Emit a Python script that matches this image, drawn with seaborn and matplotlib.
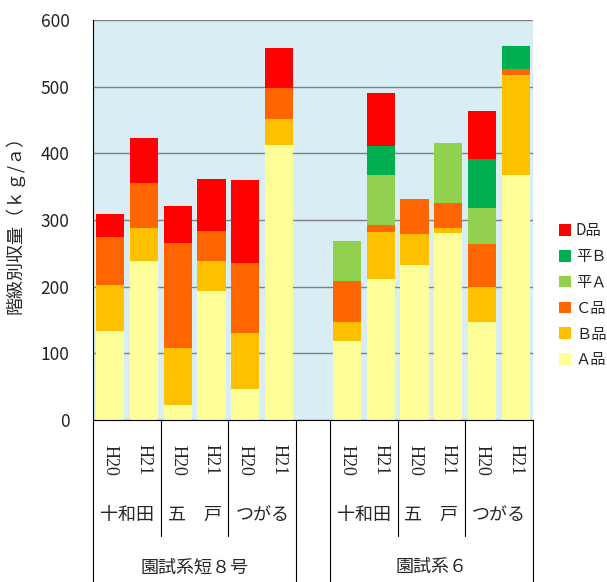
import numpy as np
import pandas as pd
import matplotlib
matplotlib.use("Agg")
import matplotlib.pyplot as plt
import seaborn as sns
from matplotlib.patches import Patch

sns.set_style("white")
plt.rcParams['font.family'] = ['Noto Sans CJK JP', 'DejaVu Sans']

# ---- data ----
groups = ["園試系短８号", "園試系６"]
sites = ["十和田", "五　戸", "つがる"]
years = ["H20", "H21"]
grades = ["A品", "B品", "C品", "平A", "平B", "D品"]
legend_labels = ["Ａ品", "Ｂ品", "Ｃ品", "平Ａ", "平Ｂ", "D品"]
colors = ["#FFFF99", "#FFC000", "#FF6600", "#92D050", "#00B050", "#FF0000"]

# 園試系短８号 (十和田 H20, H21, 五戸 H20, H21, つがる H20, H21)
g1_A = [134, 238, 23, 193, 46, 412]
g1_B = [69, 50, 85, 46, 85, 40]
g1_C = [72, 67, 157, 45, 104, 46]
g1_hA = [0, 0, 0, 0, 0, 0]
g1_hB = [0, 0, 0, 0, 0, 0]
g1_D = [34, 68, 56, 78, 125, 60]

# 園試系６
g2_A = [118, 211, 232, 280, 147, 368]
g2_B = [29, 71, 47, 8, 53, 149]
g2_C = [61, 11, 53, 37, 64, 10]
g2_hA = [60, 74, 0, 90, 54, 0]
g2_hB = [0, 44, 0, 0, 74, 34]
g2_D = [0, 79, 0, 0, 71, 0]

g1 = [g1_A, g1_B, g1_C, g1_hA, g1_hB, g1_D]
g2 = [g2_A, g2_B, g2_C, g2_hA, g2_hB, g2_D]

# ---- build table ----
slots = []
for gi in range(2):
    for s in sites:
        for y in years:
            slots.append(f"{gi}-{s}-{y}")
    if gi == 0:
        slots.append("gap")
order = slots

rows = []
idx = 0
for gi, gdata in enumerate([g1, g2]):
    for k in range(6):
        rec = {"slot": slots[idx]}
        for gname, vals in zip(grades, gdata):
            rec[gname] = vals[k]
        rows.append(rec)
        idx += 1
    if gi == 0:
        rec = {"slot": "gap"}
        for gname in grades:
            rec[gname] = 0
        rows.append(rec)
        idx += 1
df = pd.DataFrame(rows)
df["slot"] = pd.Categorical(df["slot"], categories=order, ordered=True)
df = df.sort_values("slot").reset_index(drop=True)

fig = plt.figure(figsize=(6.07, 5.82), dpi=100)
ax = fig.add_axes([93/607, 1-420/582, 440/607, 400/582])
ax.set_facecolor("#D8EDF4")

bottom = np.zeros(len(df))
for gname, col in zip(grades, colors):
    sns.barplot(data=df, x="slot", y=gname, order=order, color=col,
                bottom=bottom.copy(), width=0.83, errorbar=None,
                saturation=1, edgecolor="none", linewidth=0, ax=ax)
    bottom = bottom + df[gname].to_numpy()

ax.set_ylim(0, 600)
ax.set_xlim(-0.5, len(order)-0.5)
ax.set_yticks(np.arange(0, 601, 100))
ax.yaxis.grid(True, color="#808080", linewidth=1)
ax.set_axisbelow(True)
for sp in ["top", "right"]:
    ax.spines[sp].set_visible(False)
ax.spines["left"].set_color("black")
ax.spines["bottom"].set_color("black")
ax.tick_params(axis="y", direction="out", length=4, width=1, color="black",
               labelsize=12.5, labelcolor="#222222", pad=13)
ax.set_xticks([])
ax.set_xlabel("")
ax.set_ylabel("階級別収量（ｋｇ/ａ）", fontsize=13)
ax.yaxis.set_label_coords(-0.155, 0.5)

tr = ax.get_xaxis_transform()
# year labels
for i, s in enumerate(order):
    if s == "gap":
        continue
    yr = s.split("-")[-1]
    ax.text(i, -0.1, yr, transform=tr, rotation=270, ha="center", va="center",
            fontsize=13, family=["Liberation Serif", "DejaVu Serif"])
# site labels
for gi, start in enumerate([0, 7]):
    for si, s in enumerate(sites):
        cx = start + si*2 + 0.5
        ax.text(cx, -0.238, s, transform=tr, ha="center", va="center", fontsize=13)
    ax.text(start + 2.5, -0.368, groups[gi], transform=tr, ha="center", va="center", fontsize=13)
# separator lines
for xpos in [1.5, 3.5, 8.5, 10.5]:
    ax.plot([xpos, xpos], [0, -0.29], transform=tr, color="black", lw=0.8, clip_on=False)
for xpos in [-0.5, 5.5, 6.5, 12.5]:
    ax.plot([xpos, xpos], [0, -0.41], transform=tr, color="black", lw=0.8, clip_on=False)

handles = [Patch(facecolor=c, edgecolor="none") for c in colors]
leg = fig.legend(handles[::-1], legend_labels[::-1], loc="upper left",
                 bbox_to_anchor=(553/607, 1-216/582), frameon=False,
                 fontsize=11, handlelength=0.8, handleheight=0.8,
                 labelspacing=0.58, handletextpad=0.3, borderaxespad=0)

fig.savefig("out.png", dpi=100, facecolor="white")
